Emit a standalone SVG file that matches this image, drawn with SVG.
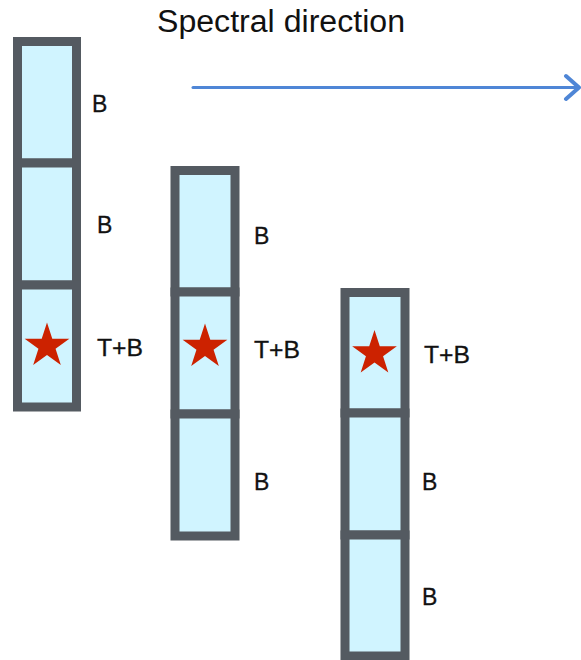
<svg xmlns="http://www.w3.org/2000/svg" width="581" height="660" viewBox="0 0 581 660">
  <style>
    .cell { fill: #d0f4ff; stroke: #545a61; stroke-width: 9; }
    .lbl { font-family: "Liberation Sans", Arial, sans-serif; font-size: 23px; fill: #111; stroke: #111; stroke-width: 0.3; }
    .title { font-family: "Liberation Sans", Arial, sans-serif; font-size: 31px; fill: #111; }
    .star { fill: #cc2200; }
    .arrow { fill: none; stroke: #4f86d6; stroke-linecap: round; stroke-linejoin: round; }
  </style>
  <defs>
    <path id="star" class="star" d="M0,-23.5 L5.29,-7.28 L22.35,-7.26 L8.56,2.78 L13.81,19.01 L0,9 L-13.81,19.01 L-8.56,2.78 L-22.35,-7.26 L-5.29,-7.28 Z"/>
  </defs>

  <rect width="581" height="660" fill="#ffffff"/>

  <text class="title" x="157" y="32" textLength="248" lengthAdjust="spacingAndGlyphs">Spectral direction</text>

  <g id="connectors">
    <path class="arrow" stroke-width="3" d="M193,87.5 H578"/>
    <path class="arrow" stroke-width="4" d="M566,76 L579,87.5 L566,99"/>
  </g>

  <!-- left column: B, B, T+B -->
  <g id="column-1">
    <rect class="cell" x="17.5" y="41.5" width="59" height="121.5"/>
    <rect class="cell" x="17.5" y="163" width="59" height="122"/>
    <rect class="cell" x="17.5" y="285" width="59" height="122"/>
    <use href="#star" x="47" y="346"/>
    <text class="lbl" x="92" y="112">B</text>
    <text class="lbl" x="97" y="233">B</text>
    <text class="lbl" x="97" y="356" textLength="46" lengthAdjust="spacingAndGlyphs">T+B</text>
  </g>

  <!-- middle column: B, T+B, B -->
  <g id="column-2">
    <rect class="cell" x="175" y="170.5" width="60" height="121.5"/>
    <rect class="cell" x="175" y="292" width="60" height="122"/>
    <rect class="cell" x="175" y="414" width="60" height="122"/>
    <use href="#star" x="205" y="347"/>
    <text class="lbl" x="254" y="244">B</text>
    <text class="lbl" x="254" y="358" textLength="46" lengthAdjust="spacingAndGlyphs">T+B</text>
    <text class="lbl" x="254" y="490">B</text>
  </g>

  <!-- right column: T+B, B, B -->
  <g id="column-3">
    <rect class="cell" x="345" y="292.5" width="60" height="120.5"/>
    <rect class="cell" x="345" y="413" width="60" height="122"/>
    <rect class="cell" x="345" y="535" width="60" height="121"/>
    <use href="#star" x="374.5" y="353.5"/>
    <text class="lbl" x="424" y="363" textLength="46" lengthAdjust="spacingAndGlyphs">T+B</text>
    <text class="lbl" x="422" y="490">B</text>
    <text class="lbl" x="422" y="605">B</text>
  </g>
</svg>
